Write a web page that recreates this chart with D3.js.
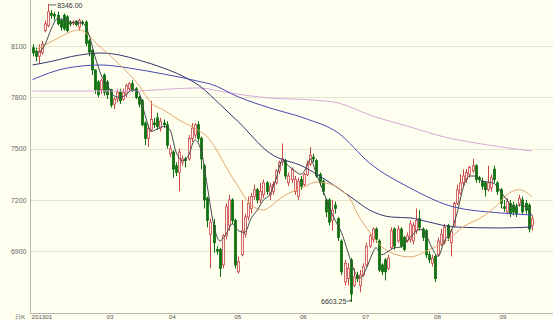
<!DOCTYPE html>
<html>
<head>
<meta charset="utf-8">
<script src="https://cdn.jsdelivr.net/npm/d3@7"></script>
<style>
  html, body { margin: 0; padding: 0; background: #fffff0; }
  svg { display: block; }
  text { font-family: "Liberation Sans", Arial, sans-serif; }
</style>
</head>
<body>
<svg id="chart" width="553" height="320"></svg>
<script>
// daily candles, index 0 = first trading day shown
const opens = [8090,8070,8040,8060,8190,8220,8290,8285,8280,8250,8280,8270,8235,8235,8245,8210,8240,8240,8130,8075,
  7960,7890,7845,7930,7890,7845,7760,7790,7830,7790,7820,7850,7880,7850,7800,7780,7650,7560,7610,7650,
  7680,7620,7650,7640,7470,7480,7400,7360,7420,7440,7440,7560,7580,7640,7560,7400,7210,7000,7050,6910,
  6910,6820,6990,7050,7200,7080,6780,6880,7000,7100,7150,7220,7260,7200,7230,7300,7230,7250,7300,7370,
  7420,7430,7300,7320,7250,7220,7320,7290,7350,7410,7450,7430,7350,7310,7200,7200,7080,7170,7090,6960,
  6720,6740,6850,6700,6760,6700,6760,6820,6930,6970,7030,6960,6820,6850,6800,6920,7030,6960,7030,6980,
  6960,6970,6960,7020,7090,7030,7020,6880,6830,6870,6880,6940,6950,7050,6950,7050,7180,7240,7300,7320,
  7350,7370,7400,7330,7310,7300,7260,7270,7380,7300,7260,7160,7130,7180,7170,7160,7180,7200,7180,7170,
  7050]
const highs = [8110,8090,8110,8130,8250,8346,8310,8300,8300,8260,8290,8280,8250,8250,8250,8260,8250,8250,8140,8080,
  7965,7900,7910,7940,7900,7850,7800,7845,7850,7850,7880,7890,7900,7860,7810,7790,7660,7640,7780,7680,
  7710,7680,7670,7660,7520,7490,7420,7500,7460,7450,7580,7650,7650,7660,7570,7410,7220,7090,7090,6930,
  6920,7000,7180,7230,7210,7090,6870,7200,7120,7220,7240,7290,7270,7300,7320,7310,7300,7310,7380,7430,
  7530,7440,7360,7390,7340,7330,7340,7360,7430,7510,7470,7440,7360,7320,7210,7210,7200,7190,7100,6970,
  6850,6830,6860,6800,6780,6790,6830,6950,7000,7040,7040,6970,6830,6860,6880,7040,7040,7050,7040,6990,
  7010,7080,7070,7150,7140,7040,7030,6900,6880,6880,6980,7030,7060,7060,7030,7190,7290,7350,7380,7380,
  7400,7440,7410,7340,7330,7310,7400,7350,7400,7310,7270,7200,7210,7200,7190,7180,7230,7220,7200,7180,
  7110]
const lows = [8040,8010,8000,8050,8180,8210,8260,8250,8220,8190,8190,8180,8215,8220,8215,8190,8220,8100,8040,7930,
  7820,7800,7820,7810,7790,7740,7730,7770,7760,7780,7800,7830,7830,7790,7740,7630,7520,7510,7600,7620,
  7610,7600,7620,7500,7450,7330,7340,7250,7400,7390,7430,7540,7560,7540,7380,7150,7040,6800,6890,6880,
  6750,6800,6970,7020,7060,6800,6770,6870,6980,7080,7120,7200,7180,7180,7210,7230,7200,7230,7290,7350,
  7400,7320,7280,7300,7230,7200,7260,7280,7340,7400,7420,7330,7280,7230,7100,7050,7020,7120,6960,6760,
  6700,6700,6603.25,6690,6720,6660,6750,6810,6920,6950,6950,6780,6760,6730,6790,6910,6910,6950,6920,6900,
  6950,6950,6940,7000,7020,6960,6860,6830,6810,6720,6870,6930,6940,6960,6870,7040,7170,7230,7280,7300,
  7330,7360,7300,7300,7260,7220,7250,7250,7300,7230,7150,7130,7120,7100,7110,7100,7160,7120,7120,7010,
  7020]
const closes = [8060,8040,8070,8110,8230,8300,8280,8275,8230,8210,8200,8190,8230,8240,8225,8250,8235,8115,8065,7960,
  7845,7815,7900,7830,7815,7755,7790,7830,7780,7830,7870,7880,7840,7800,7760,7640,7560,7620,7670,7640,
  7630,7660,7640,7520,7500,7380,7360,7480,7440,7430,7560,7620,7640,7560,7440,7200,7080,7070,6950,6900,
  6800,6990,7160,7200,7080,6820,6840,7020,7100,7180,7220,7260,7200,7250,7300,7250,7280,7290,7370,7420,
  7440,7340,7340,7380,7320,7310,7280,7350,7410,7460,7440,7340,7300,7250,7130,7070,7140,7150,6980,6780,
  6830,6800,6650,6750,6740,6760,6810,6930,6990,7030,6970,6790,6780,6780,6860,7020,6930,7030,6930,6910,
  6990,7060,7050,7080,7040,6980,6880,6850,6860,6740,6960,7000,7040,6980,7020,7180,7260,7300,7340,7360,
  7390,7400,7320,7320,7280,7260,7300,7330,7320,7250,7180,7150,7190,7120,7130,7120,7210,7130,7140,7030,
  7090]

// moving average lines: [candle index, value]
const ma5 = [[2,8060],[4,8110],[6,8200],[8,8260],[10,8255],[12,8240],[14,8235],[16,8235],[18,8170],[20,8040],
  [22,7930],[24,7870],[26,7810],[28,7800],[30,7815],[32,7845],[34,7830],[36,7700],[38,7600],[40,7615],
  [42,7630],[44,7610],[46,7480],[48,7430],[50,7460],[52,7550],[54,7490],[56,7280],[58,7060],[60,6960],
  [62,7000],[64,7060],[66,7020],[68,7010],[70,7090],[72,7140],[74,7200],[76,7230],[78,7320],[80,7430],
  [82,7400],[84,7370],[86,7350],[88,7400],[89,7440],[91,7350],[93,7260],[95,7160],[97,7080],[99,7010],
  [101,6900],[103,6790],[105,6745],[107,6800],[109,6890],[110,6920],[112,6880],[114,6900],[116,6920],[118,6925],
  [120,6960],[122,7000],[124,7030],[126,7000],[128,6920],[130,6870],[132,6960],[134,7010],[136,7120],[138,7270],
  [140,7340],[142,7340],[144,7310],[146,7305],[148,7295],[150,7250],[152,7200],[154,7160],[156,7170],[158,7160],
  [160,7110]]
const ma20 = [[1,8077],[7,8135],[15,8194],[21,8106],[28,7989],[34,7872],[38,7767],[42,7726],[47,7667],[53,7609],
  [56,7568],[59,7492],[62,7393],[66,7276],[70,7171],[74,7141],[76,7159],[80,7217],[87,7276],[91,7305],
  [94,7299],[99,7258],[102,7200],[104,7124],[108,7013],[112,6925],[117,6878],[121,6867],[127,6908],[133,6966],
  [138,7042],[144,7100],[149,7171],[152,7230],[156,7260],[160,7220]]
const ma60 = [[0,7989],[5,8006],[15,8047],[22,8059],[28,8047],[34,8018],[42,7971],[48,7925],[54,7860],[60,7760],
  [66,7656],[76,7474],[87,7393],[94,7317],[102,7217],[108,7141],[115,7100],[121,7095],[127,7071],[135,7042],
  [150,7036],[160,7042]]
const ma120 = [[0,7904],[11,7971],[22,7989],[31,7971],[42,7936],[50,7907],[54,7890],[57,7878],[66,7802],[76,7738],
  [87,7679],[98,7591],[108,7416],[121,7270],[135,7159],[150,7124],[160,7112]]
const ma250 = [[0,7837],[31,7837],[53,7855],[63,7826],[76,7796],[90,7784],[98,7767],[108,7697],[121,7627],[132,7568],
  [142,7533],[160,7486]]

const yTicks = [6900, 7200, 7500, 7800, 8100]
const monthIdx = [0, 24, 44, 65, 86, 106, 129, 150]
const monthLabels = ['201301', '03', '04', '05', '06', '07', '08', '09']

const W = 553, H = 320
const svg = d3.select('#chart')

const x = d3.scaleLinear().domain([-0.5, 166.8]).range([31, 553])
const y = d3.scaleLinear().domain([6539, 8369]).range([313, 0])

svg.append('rect').attr('width', W).attr('height', H).attr('fill', '#fffff0')

// horizontal grid
svg.append('g')
  .selectAll('line')
  .data(yTicks)
  .join('line')
  .attr('x1', 31).attr('x2', W)
  .attr('y1', d => Math.round(y(d)) + 0.5)
  .attr('y2', d => Math.round(y(d)) + 0.5)
  .attr('stroke', '#e4e4cc')

// y axis
const yAxis = d3.axisLeft(y).tickValues(yTicks).tickSize(0).tickPadding(4).tickFormat(d3.format('d'))
svg.append('g')
  .attr('transform', 'translate(30.5,0)')
  .call(yAxis)
  .call(g => g.select('.domain').attr('stroke', '#b8b8b0').attr('d', 'M0,0V313'))
  .call(g => g.selectAll('text').attr('fill', '#666').attr('font-size', 7))

// bottom line
svg.append('line')
  .attr('x1', 30).attr('x2', W)
  .attr('y1', 313.5).attr('y2', 313.5)
  .attr('stroke', '#b8b8b0')

// month labels
svg.append('g')
  .selectAll('text')
  .data(monthIdx)
  .join('text')
  .attr('x', d => x(d) - 1)
  .attr('y', 318.5)
  .attr('font-size', 6.2)
  .attr('fill', '#555')
  .text((d, i) => monthLabels[i])

svg.append('text')
  .attr('x', 15).attr('y', 318.5)
  .attr('font-size', 6.2)
  .attr('fill', '#555')
  .attr('font-family', '"Noto Sans CJK SC", sans-serif')
  .text('日K')

// candles
const candles = opens.map((o, i) => ({ i, o, h: highs[i], l: lows[i], c: closes[i] }))
const upColor = '#c84848'
const downColor = '#107010'

const cg = svg.append('g').selectAll('g').data(candles).join('g')
cg.append('line')
  .attr('x1', d => Math.round(x(d.i)) + 0.5)
  .attr('x2', d => Math.round(x(d.i)) + 0.5)
  .attr('y1', d => y(d.h))
  .attr('y2', d => y(d.l))
  .attr('stroke', d => d.c >= d.o ? upColor : downColor)
cg.append('rect')
  .attr('x', d => Math.round(x(d.i)) - 0.5)
  .attr('width', 2)
  .attr('y', d => y(Math.max(d.o, d.c)))
  .attr('height', d => Math.max(1, Math.abs(y(d.o) - y(d.c))))
  .attr('fill', d => d.c >= d.o ? '#fff0f0' : downColor)
  .attr('stroke', d => d.c >= d.o ? upColor : downColor)
  .attr('stroke-width', 0.8)

// moving averages
const line = d3.line()
  .curve(d3.curveMonotoneX)
  .x(d => x(d[0]))
  .y(d => y(d[1]))

const maSeries = [
  { pts: ma250, color: '#d8a8d8' },
  { pts: ma120, color: '#4848b4' },
  { pts: ma60, color: '#34346c' },
  { pts: ma20, color: '#e0a870' },
  { pts: ma5, color: '#404848' }
]
svg.append('g')
  .selectAll('path')
  .data(maSeries)
  .join('path')
  .attr('d', d => line(d.pts))
  .attr('fill', 'none')
  .attr('stroke', d => d.color)
  .attr('stroke-width', 1)

// max / min labels
const hiIdx = d3.maxIndex(highs)
const loIdx = d3.minIndex(lows)
const hx = x(hiIdx), hy = y(highs[hiIdx])
svg.append('path')
  .attr('d', `M${hx + 1},${hy + 1} L${hx + 8},${hy + 1}`)
  .attr('fill', 'none').attr('stroke', '#333').attr('stroke-width', 0.8)
svg.append('text')
  .attr('x', hx + 9).attr('y', hy + 4)
  .attr('font-size', 7).attr('fill', '#333')
  .text(d3.format('.2f')(highs[hiIdx]))

const lx = x(loIdx), ly = y(lows[loIdx])
svg.append('path')
  .attr('d', `M${lx},${ly - 3} L${lx},${ly - 1} L${lx - 4},${ly - 1}`)
  .attr('fill', 'none').attr('stroke', '#333').attr('stroke-width', 0.8)
svg.append('text')
  .attr('x', lx - 4.5).attr('y', ly + 1.5)
  .attr('text-anchor', 'end')
  .attr('font-size', 7).attr('fill', '#333')
  .text(d3.format('.2f')(lows[loIdx]))
</script>
</body>
</html>
